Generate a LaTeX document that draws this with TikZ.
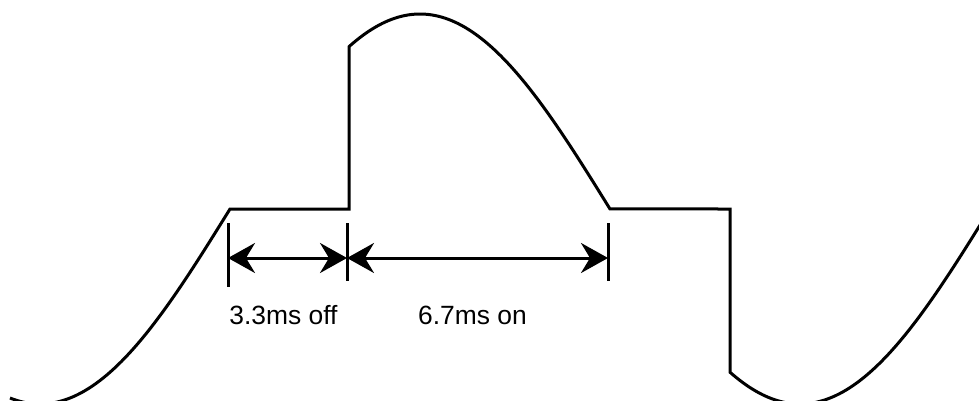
\documentclass[tikz,border=0pt]{standalone}
\usepackage{fontspec}
\setmainfont{Liberation Sans}
\usetikzlibrary{arrows.meta}
\begin{document}
\begin{tikzpicture}[x=0.5pt, y=-0.5pt, line width=1.5pt,
    >={Stealth[length=13.5pt, width=15pt, inset=4.5pt]},
    label/.style={anchor=base, font=\fontsize{13.2}{15}\selectfont}]
  \useasboundingbox (0,0) rectangle (979,401);
  \clip (0,0) rectangle (979,401);

  % chopped sine wave
  \draw[line join=miter] plot[domain=10:230, samples=60] (\x, {209+195*cos((\x-40)*0.473684)})
    -- (349,209)
    -- plot[domain=349:610, samples=80] (\x, {209+195*cos((\x-40)*0.473684)})
    -- (730,209)
    -- plot[domain=730:985, samples=80] (\x, {209+195*cos((\x-40)*0.473684)});

  % ticks
  \coordinate (T1) at (228,258);
  \coordinate (T2) at (347,258);
  \coordinate (T3) at (608,258);
  \draw (228,223) -- (228,287);
  \draw (347,223) -- (347,281);
  \draw (608,223) -- (608,281);

  % dimension arrows
  \draw[<->] (T1) -- (T2);
  \draw[<->] (T2) -- (T3);
  \node[label] (off) at (283.5,324.5) {3.3ms off};
  \node[label] (on) at (472.5,324.5) {6.7ms on};
\end{tikzpicture}
\end{document}
